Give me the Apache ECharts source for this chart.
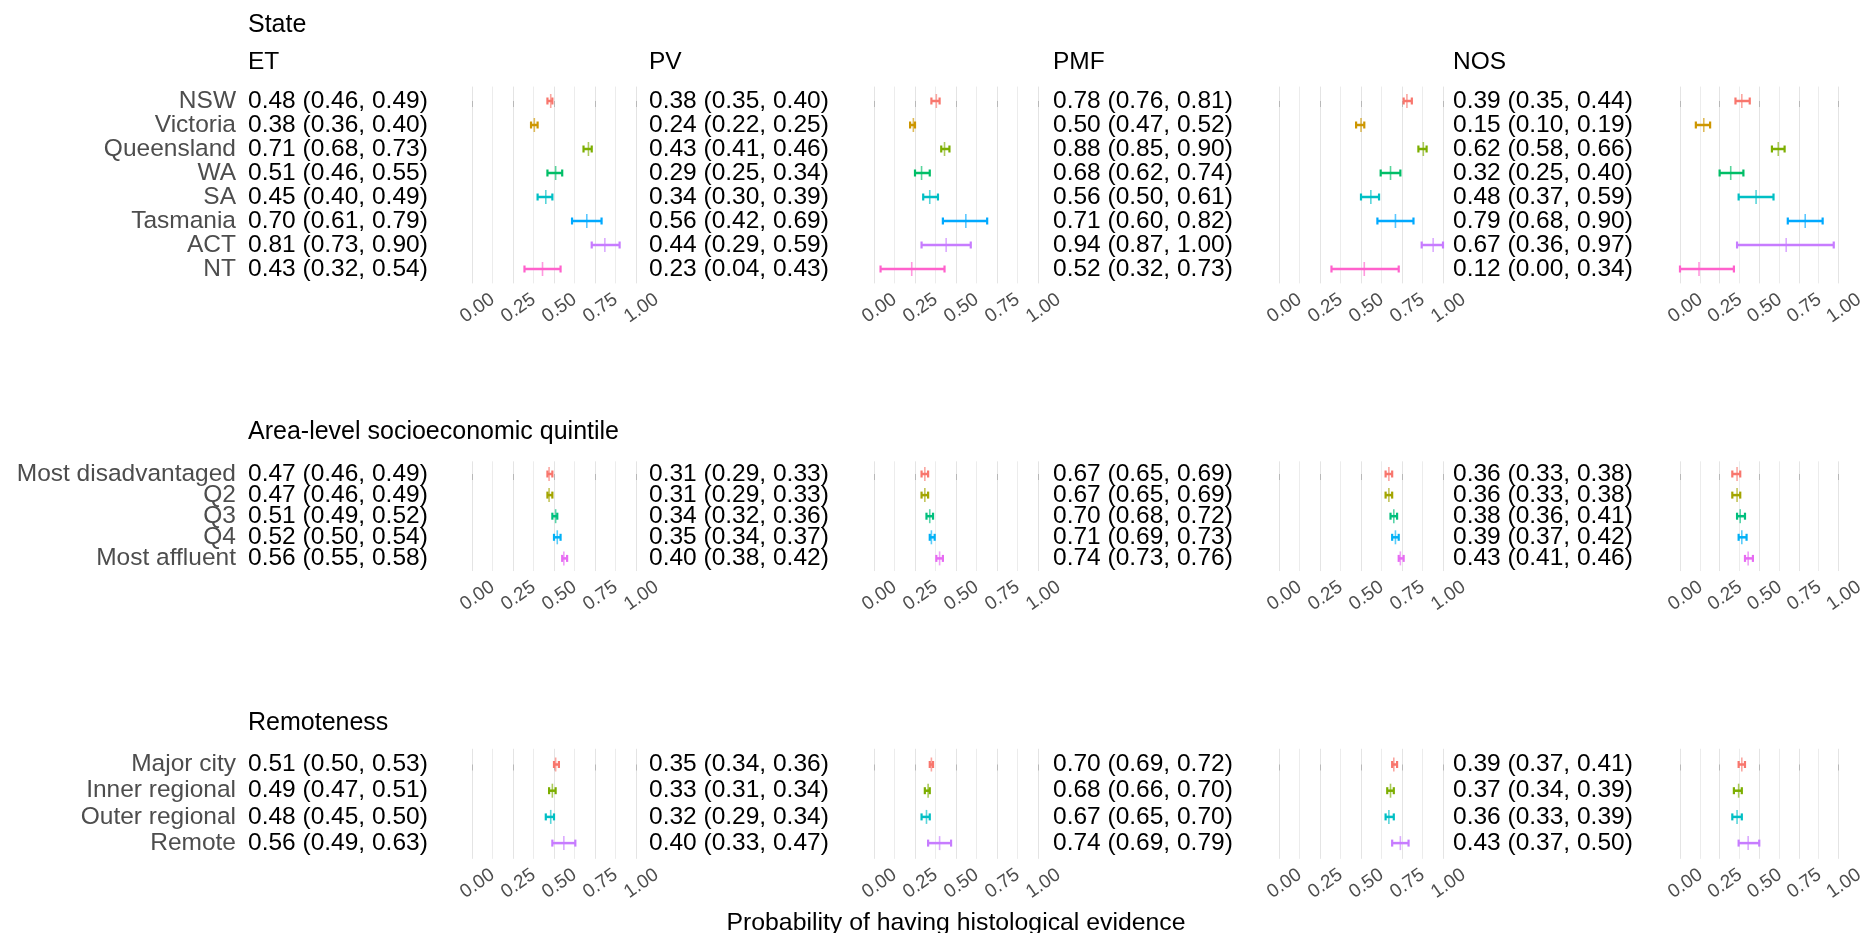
<!DOCTYPE html>
<html><head><meta charset="utf-8">
<script src="https://cdn.jsdelivr.net/npm/echarts@6/dist/echarts.min.js"></script>
<style>html,body{margin:0;padding:0;background:#fff}#c{width:1867px;height:933px}</style>
</head><body><div id="c"></div>
<script>
// ---------------- data ----------------
const measures = ['ET', 'PV', 'PMF', 'NOS'];
const groupTitles = ['State', 'Area-level socioeconomic quintile', 'Remoteness'];
const xTitle = 'Probability of having histological evidence';

const stateCats = ['NSW', 'Victoria', 'Queensland', 'WA', 'SA', 'Tasmania', 'ACT', 'NT'];
// [estimate, lower, upper]
const stateET  = [[0.48,0.46,0.49],[0.38,0.36,0.40],[0.71,0.68,0.73],[0.51,0.46,0.55],[0.45,0.40,0.49],[0.70,0.61,0.79],[0.81,0.73,0.90],[0.43,0.32,0.54]];
const statePV  = [[0.38,0.35,0.40],[0.24,0.22,0.25],[0.43,0.41,0.46],[0.29,0.25,0.34],[0.34,0.30,0.39],[0.56,0.42,0.69],[0.44,0.29,0.59],[0.23,0.04,0.43]];
const statePMF = [[0.78,0.76,0.81],[0.50,0.47,0.52],[0.88,0.85,0.90],[0.68,0.62,0.74],[0.56,0.50,0.61],[0.71,0.60,0.82],[0.94,0.87,1.00],[0.52,0.32,0.73]];
const stateNOS = [[0.39,0.35,0.44],[0.15,0.10,0.19],[0.62,0.58,0.66],[0.32,0.25,0.40],[0.48,0.37,0.59],[0.79,0.68,0.90],[0.67,0.36,0.97],[0.12,0.00,0.34]];

const sesCats = ['Most disadvantaged', 'Q2', 'Q3', 'Q4', 'Most affluent'];
const sesET  = [[0.47,0.46,0.49],[0.47,0.46,0.49],[0.51,0.49,0.52],[0.52,0.50,0.54],[0.56,0.55,0.58]];
const sesPV  = [[0.31,0.29,0.33],[0.31,0.29,0.33],[0.34,0.32,0.36],[0.35,0.34,0.37],[0.40,0.38,0.42]];
const sesPMF = [[0.67,0.65,0.69],[0.67,0.65,0.69],[0.70,0.68,0.72],[0.71,0.69,0.73],[0.74,0.73,0.76]];
const sesNOS = [[0.36,0.33,0.38],[0.36,0.33,0.38],[0.38,0.36,0.41],[0.39,0.37,0.42],[0.43,0.41,0.46]];

const remCats = ['Major city', 'Inner regional', 'Outer regional', 'Remote'];
const remET  = [[0.51,0.50,0.53],[0.49,0.47,0.51],[0.48,0.45,0.50],[0.56,0.49,0.63]];
const remPV  = [[0.35,0.34,0.36],[0.33,0.31,0.34],[0.32,0.29,0.34],[0.40,0.33,0.47]];
const remPMF = [[0.70,0.69,0.72],[0.68,0.66,0.70],[0.67,0.65,0.70],[0.74,0.69,0.79]];
const remNOS = [[0.39,0.37,0.41],[0.37,0.34,0.39],[0.36,0.33,0.39],[0.43,0.37,0.50]];

const statePalette = ['#F8766D','#CD9600','#7CAE00','#00BE67','#00BFC4','#00A9FF','#C77CFF','#FF61CC'];
const sesPalette   = ['#F8766D','#A3A500','#00BF7D','#00B0F6','#E76BF3'];
const remPalette   = ['#F8766D','#7CAE00','#00BFC4','#C77CFF'];

// ---------------- layout ----------------
const FONT = '"Liberation Sans", Arial, sans-serif';
const BASE = 24.5;
const TITLE = 25;
const textX = [248, 649, 1053, 1453];
const plotX = [472, 874, 1279, 1680];
const plotW = 164;
const groups = [
  {cats: stateCats, sets: [stateET, statePV, statePMF, stateNOS], pal: statePalette, first: 101, step: 24, titleY: 25, subY: 62},
  {cats: sesCats, sets: [sesET, sesPV, sesPMF, sesNOS], pal: sesPalette, first: 474, step: 21.1, titleY: 432},
  {cats: remCats, sets: [remET, remPV, remPMF, remNOS], pal: remPalette, first: 764.5, step: 26.2, titleY: 723}
];

const grid = [], xAxis = [], yAxis = [], series = [], graphic = [];
const fmt = v => v.toFixed(2);
const mid = {textVerticalAlign: 'middle', verticalAlign: 'middle'};

groups.forEach((g, gi) => {
  const N = g.cats.length;
  const top = g.first - 0.6 * g.step;
  const height = (N - 1 + 1.2) * g.step;
  graphic.push({type: 'text', x: textX[0], y: g.titleY,
    style: Object.assign({text: groupTitles[gi], font: TITLE + 'px ' + FONT, fill: '#000'}, mid)});
  measures.forEach((m, mi) => {
    if (g.subY !== undefined) {
      graphic.push({type: 'text', x: textX[mi], y: g.subY,
        style: Object.assign({text: m, font: BASE + 'px ' + FONT, fill: '#000'}, mid)});
    }
    const rows = g.sets[mi];
    const data = rows.map((r, i) => [r[0], r[1], r[2], i]);
    // text column grid
    const tg = grid.length;
    grid.push({left: textX[mi], top: top, width: 200, height: height});
    xAxis.push({gridIndex: tg, type: 'value', min: 0, max: 1, show: false});
    yAxis.push({gridIndex: tg, type: 'value', min: -0.6, max: N - 0.4, inverse: true, show: false});
    series.push({
      type: 'custom', xAxisIndex: tg, yAxisIndex: tg, data: data, silent: true,
      renderItem: (params, api) => {
        const i = api.value(3);
        const y = api.coord([0, i])[1];
        const x = params.coordSys.x;
        const kids = [{type: 'text', x: x, y: y,
          style: Object.assign({text: fmt(api.value(0)) + ' (' + fmt(api.value(1)) + ', ' + fmt(api.value(2)) + ')',
            font: BASE + 'px ' + FONT, fill: '#000', textAlign: 'left', align: 'left'}, mid)}];
        if (mi === 0) {
          kids.push({type: 'text', x: x - 12, y: y,
            style: Object.assign({text: g.cats[i], font: BASE + 'px ' + FONT, fill: '#4D4D4D', textAlign: 'right', align: 'right'}, mid)});
        }
        return {type: 'group', children: kids};
      }
    });
    // forest plot grid
    const pg = grid.length;
    grid.push({left: plotX[mi], top: top, width: plotW, height: height});
    xAxis.push({
      gridIndex: pg, type: 'value', min: 0, max: 1, interval: 0.25,
      axisLine: {show: false},
      axisTick: {show: true, length: 6, lineStyle: {color: '#b8b8b8', width: 1}},
      axisLabel: {rotate: 35, align: 'center', verticalAlign: 'top', fontSize: 19, fontFamily: FONT,
        color: '#4D4D4D', margin: 17, formatter: fmt},
      splitLine: {show: true, lineStyle: {color: '#E4E4E4', width: 1}},
      minorTick: {show: false, splitNumber: 2},
      minorSplitLine: {show: true, lineStyle: {color: '#ECECEC', width: 1}}
    });
    yAxis.push({gridIndex: pg, type: 'value', min: -0.6, max: N - 0.4, inverse: true, show: false});
    series.push({
      type: 'custom', xAxisIndex: pg, yAxisIndex: pg, data: data, silent: true,
      encode: {x: [0, 1, 2], y: 3},
      renderItem: (params, api) => {
        const i = api.value(3);
        const pE = api.coord([api.value(0), i]);
        const pL = api.coord([api.value(1), i]);
        const pH = api.coord([api.value(2), i]);
        const c = g.pal[i];
        const cap = 3.5, tk = 7;
        return {type: 'group', children: [
          {type: 'line', shape: {x1: pL[0], y1: pL[1], x2: pH[0], y2: pH[1]}, style: {stroke: c, lineWidth: 2.5}},
          {type: 'line', shape: {x1: pL[0], y1: pL[1] - cap, x2: pL[0], y2: pL[1] + cap}, style: {stroke: c, lineWidth: 2.2}},
          {type: 'line', shape: {x1: pH[0], y1: pH[1] - cap, x2: pH[0], y2: pH[1] + cap}, style: {stroke: c, lineWidth: 2.2}},
          {type: 'line', shape: {x1: pE[0], y1: pE[1] - tk, x2: pE[0], y2: pE[1] + tk}, style: {stroke: c, lineWidth: 1.6, opacity: 0.65}}
        ]};
      }
    });
  });
});

graphic.push({type: 'text', x: 956, y: 923,
  style: Object.assign({text: xTitle, font: '24.8px ' + FONT, fill: '#000', textAlign: 'center', align: 'center'}, mid)});

const chart = echarts.init(document.getElementById('c'), null, {renderer: 'canvas'});
chart.setOption({
  animation: false,
  backgroundColor: '#fff',
  grid: grid, xAxis: xAxis, yAxis: yAxis, series: series, graphic: graphic
});
</script></body></html>
